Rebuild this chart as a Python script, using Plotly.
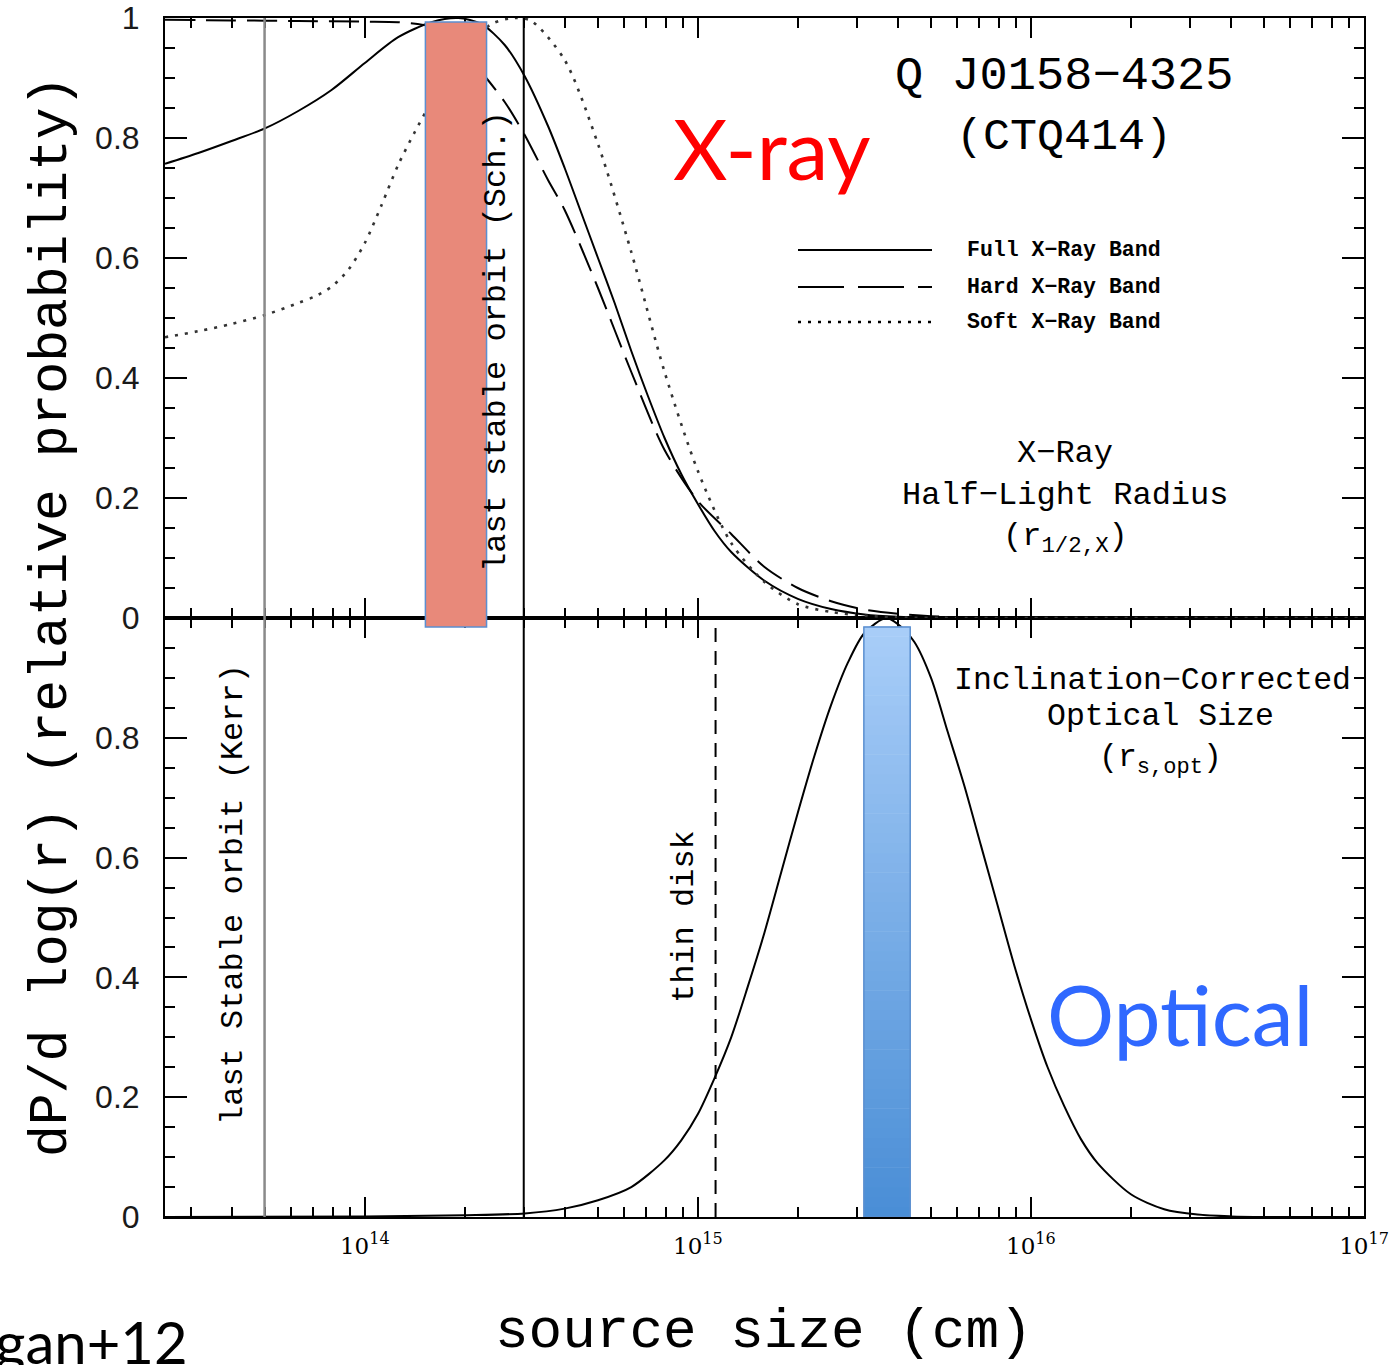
import plotly.graph_objects as go

# ---------------- data (log10 of source size in cm) ----------------
full_logr = [13.4, 13.5, 13.6, 13.7, 13.8, 13.9, 14.0, 14.1, 14.2, 14.28, 14.35, 14.42, 14.48,
             14.55, 14.6, 14.65, 14.7, 14.75, 14.8, 14.85, 14.9, 14.95, 15.0, 15.05, 15.1, 15.2,
             15.3, 15.4, 15.5, 15.6, 15.7, 15.8, 16.0, 17.0]
full_p = [0.757, 0.775, 0.795, 0.816, 0.845, 0.88, 0.925, 0.968, 0.993, 1.0, 0.99, 0.955, 0.903,
          0.82, 0.75, 0.675, 0.60, 0.525, 0.445, 0.37, 0.30, 0.24, 0.19, 0.145, 0.11, 0.062,
          0.032, 0.015, 0.006, 0.002, 0.0005, 0.0, 0.0, 0.0]

hard_logr = [13.4, 13.6, 13.8, 14.0, 14.1, 14.2, 14.28, 14.35, 14.42, 14.48, 14.55, 14.6, 14.7,
             14.8, 14.9, 15.0, 15.1, 15.2, 15.3, 15.4, 15.5, 15.6, 15.7, 15.8, 16.0, 17.0]
hard_p = [0.997, 0.996, 0.995, 0.994, 0.993, 0.985, 0.955, 0.91, 0.86, 0.805, 0.73, 0.68, 0.55,
          0.41, 0.28, 0.195, 0.14, 0.085, 0.05, 0.028, 0.014, 0.007, 0.003, 0.001, 0.0, 0.0]

soft_logr = [13.4, 13.5, 13.6, 13.7, 13.8, 13.85, 13.9, 13.95, 14.0, 14.05, 14.1, 14.15, 14.2,
             14.3, 14.38, 14.45, 14.5, 14.6, 14.7, 14.8, 14.9, 15.0, 15.1, 15.2, 15.3, 15.4, 15.5,
             15.6, 15.8, 16.0, 17.0]
soft_p = [0.468, 0.478, 0.49, 0.505, 0.525, 0.536, 0.552, 0.58, 0.625, 0.688, 0.755, 0.81, 0.86,
          0.945, 0.99, 1.0, 0.995, 0.93, 0.79, 0.61, 0.41, 0.245, 0.125, 0.06, 0.023, 0.01, 0.004,
          0.001, 0.0, 0.0, 0.0]

opt_logr = [13.4, 14.0, 14.3, 14.48, 14.6, 14.7, 14.8, 14.9, 14.95, 15.0, 15.05, 15.1, 15.15,
            15.2, 15.25, 15.3, 15.35, 15.4, 15.45, 15.5, 15.565, 15.6, 15.65, 15.7, 15.75, 15.8,
            15.85, 15.9, 15.95, 16.0, 16.05, 16.1, 16.15, 16.2, 16.3, 16.4, 16.5, 16.6, 16.7, 17.0]
opt_p = [0.0, 0.001, 0.003, 0.006, 0.014, 0.028, 0.05, 0.095, 0.128, 0.172, 0.232, 0.30, 0.385,
         0.475, 0.575, 0.675, 0.77, 0.855, 0.925, 0.975, 1.0, 0.99, 0.96, 0.9, 0.81, 0.72,
         0.62, 0.52, 0.42, 0.33, 0.25, 0.185, 0.13, 0.09, 0.038, 0.013, 0.004, 0.001, 0.0, 0.0]

# reference radii (cm)
r_isco_kerr = 5e13
r_isco_sch = 3e14
r_thin_disk = 1.13e15
xray_band = [1.52e14, 2.32e14]
opt_band = [3.15e15, 4.34e15]

major_ticks = [1e14, 1e15, 1e16, 1e17]
major_labels = ["10<sup>14</sup>", "10<sup>15</sup>", "10<sup>16</sup>", "10<sup>17</sup>"]
minor_ticks = [k * 10 ** e for e in range(13, 17) for k in range(2, 10)]

upper_yticks = [0, 0.2, 0.4, 0.6, 0.8, 1]
lower_yticks = [0, 0.2, 0.4, 0.6, 0.8]

# ---------------- layout helpers ----------------
W, H = 1400, 1365
L, R, T, B = 165, 1364, 18, 1217


def px(x):
    return (x - L) / (R - L)


def py(y):
    return (B - y) / (B - T)


SPLIT = py(618)
SERIF = "DejaVu Serif"
MONO = "Liberation Mono"
HARD_DASH = "30px,11px"
LEG_HARD_DASH = "46px,14px"
SOFT_DASH = "3px,7px"

fig = go.Figure()


def tolin(lst):
    return [10 ** v for v in lst]


fig.add_trace(go.Scatter(x=tolin(full_logr), y=full_p, mode="lines", xaxis="x2", yaxis="y2",
                         line=dict(color="black", width=2, shape="spline", smoothing=0.8),
                         showlegend=False))
fig.add_trace(go.Scatter(x=tolin(hard_logr), y=hard_p, mode="lines", xaxis="x2", yaxis="y2",
                         line=dict(color="black", width=2, dash=HARD_DASH, shape="spline", smoothing=0.8),
                         showlegend=False))
fig.add_trace(go.Scatter(x=tolin(soft_logr), y=soft_p, mode="lines", xaxis="x2", yaxis="y2",
                         line=dict(color="#333", width=2.6, dash=SOFT_DASH, shape="spline", smoothing=0.8),
                         showlegend=False))
fig.add_trace(go.Scatter(x=tolin(opt_logr), y=opt_p, mode="lines", xaxis="x", yaxis="y",
                         line=dict(color="black", width=2, shape="spline", smoothing=0.8),
                         showlegend=False))

shapes = []
# vertical reference lines
shapes.append(dict(type="line", xref="x", yref="paper", x0=r_isco_kerr, x1=r_isco_kerr, y0=0, y1=1,
                   line=dict(color="#8a8a8a", width=2.5)))
shapes.append(dict(type="line", xref="x", yref="paper", x0=r_isco_sch, x1=r_isco_sch, y0=0, y1=1,
                   line=dict(color="black", width=2)))
shapes.append(dict(type="line", xref="x", yref="y", x0=r_thin_disk, x1=r_thin_disk, y0=0, y1=0.985,
                   line=dict(color="black", width=2, dash="14px,9px")))

# X-ray band (red)
shapes.append(dict(type="rect", xref="x2", yref="paper", x0=xray_band[0], x1=xray_band[1],
                   y0=py(627), y1=py(22), fillcolor="rgb(232,137,122)",
                   line=dict(color="#5b8fd0", width=1.5), layer="above"))

# Optical band with vertical gradient
N = 60
top_c = (168, 205, 248)
bot_c = (74, 142, 214)
y_top = 0.985
for i in range(N):
    f = i / (N - 1)
    c = tuple(int(round(bot_c[k] + (top_c[k] - bot_c[k]) * f)) for k in range(3))
    shapes.append(dict(type="rect", xref="x", yref="y", x0=opt_band[0], x1=opt_band[1],
                       y0=y_top * i / N, y1=y_top * (i + 1) / N + 0.001,
                       fillcolor="rgb(%d,%d,%d)" % c, line=dict(width=0), layer="above"))
shapes.append(dict(type="rect", xref="x", yref="y", x0=opt_band[0], x1=opt_band[1], y0=0, y1=y_top,
                   line=dict(color="#5b8fd0", width=1.5), layer="above"))

# manual legend
leg_items = [("Full X\u2212Ray Band", "solid", 250), ("Hard X\u2212Ray Band", LEG_HARD_DASH, 287),
             ("Soft X\u2212Ray Band", SOFT_DASH, 322)]
for lab, dash, yy in leg_items:
    shapes.append(dict(type="line", xref="paper", yref="paper", x0=px(798), x1=px(932), y0=py(yy), y1=py(yy),
                       line=dict(color="black", width=2.6 if dash == SOFT_DASH else 2, dash=dash)))

ann = []


def text(s, x, y, size, font=MONO, color="black", angle=0, xanchor="center"):
    ann.append(dict(text=s, x=px(x), y=py(y), xref="paper", yref="paper", showarrow=False,
                    font=dict(family=font, size=size, color=color), textangle=angle,
                    xanchor=xanchor, yanchor="middle"))


for lab, dash, yy in leg_items:
    text("<b>" + lab + "</b>", 965, yy, 21.5, xanchor="left")

text("Q J0158\u22124325", 1064, 77, 47)
text("(CTQ414)", 1064, 137, 45)
text("X\u2212Ray", 1065, 453, 32)
text("Half\u2212Light Radius", 1065, 495, 32)
text("(r<sub>1/2,X</sub>)", 1065, 538, 32)
text("Inclination\u2212Corrected", 1152, 680, 31.5)
text("Optical Size", 1160, 717, 31.5)
text("(r<sub>s,opt</sub>)", 1160, 760, 31.5)
text("X-ray", 772, 148, 84, font="Lato", color="#ff0000")
text("Optical", 1180, 1013, 84, font="Lato", color="#2f68ff")
text("last stable orbit (Sch.)", 496, 342, 32, angle=-90)
text("last Stable orbit (Kerr)", 233, 895, 32, angle=-90)
text("thin disk", 684, 917, 32, angle=-90)
text("dP/d log(r) (relative probability)", 52, 617, 53, angle=-90)
text("source size (cm)", 764, 1332, 56)
text("Morgan+12", 190, 1341, 58, font="Lato", xanchor="right")

fig.update_layout(shapes=shapes, annotations=ann)

xcommon = dict(type="log", range=[13.4, 17], showline=True, linecolor="black", linewidth=2,
               mirror="ticks", ticks="inside", ticklen=20, tickwidth=2, tickcolor="black",
               tickvals=major_ticks, ticktext=major_labels, showgrid=False, zeroline=False,
               automargin=False,
               minor=dict(tickvals=minor_ticks, ticks="inside", ticklen=10, tickwidth=2, tickcolor="black",
                          showgrid=False))
ycommon = dict(range=[0, 1], showline=True, linecolor="black", linewidth=2, mirror="ticks",
               ticks="inside", ticklen=22, tickwidth=2, tickcolor="black", showgrid=False, zeroline=False,
               automargin=False,
               tickfont=dict(family="Liberation Sans", size=32, color="#1a1a1a"), ticklabelstandoff=17,
               minor=dict(dtick=0.05, ticks="inside", ticklen=10, tickwidth=2, tickcolor="black",
                          showgrid=False))

fig.update_layout(
    width=W, height=H,
    margin=dict(l=L, r=W - R, t=T, b=H - B, autoexpand=False),
    paper_bgcolor="white", plot_bgcolor="white",
    xaxis=dict(**xcommon, anchor="y", domain=[0, 1],
               tickfont=dict(family=SERIF, size=23, color="black"), ticklabelstandoff=7),
    xaxis2=dict(**xcommon, anchor="y2", domain=[0, 1], matches="x", showticklabels=False),
    yaxis=dict(**ycommon, domain=[0, SPLIT], anchor="x", tickvals=lower_yticks,
               ticktext=["0", "0.2", "0.4", "0.6", "0.8"]),
    yaxis2=dict(**ycommon, domain=[SPLIT, 1], anchor="x2", tickvals=upper_yticks,
                ticktext=["0", "0.2", "0.4", "0.6", "0.8", "1"]),
    showlegend=False,
)

fig.write_html("out.html")
